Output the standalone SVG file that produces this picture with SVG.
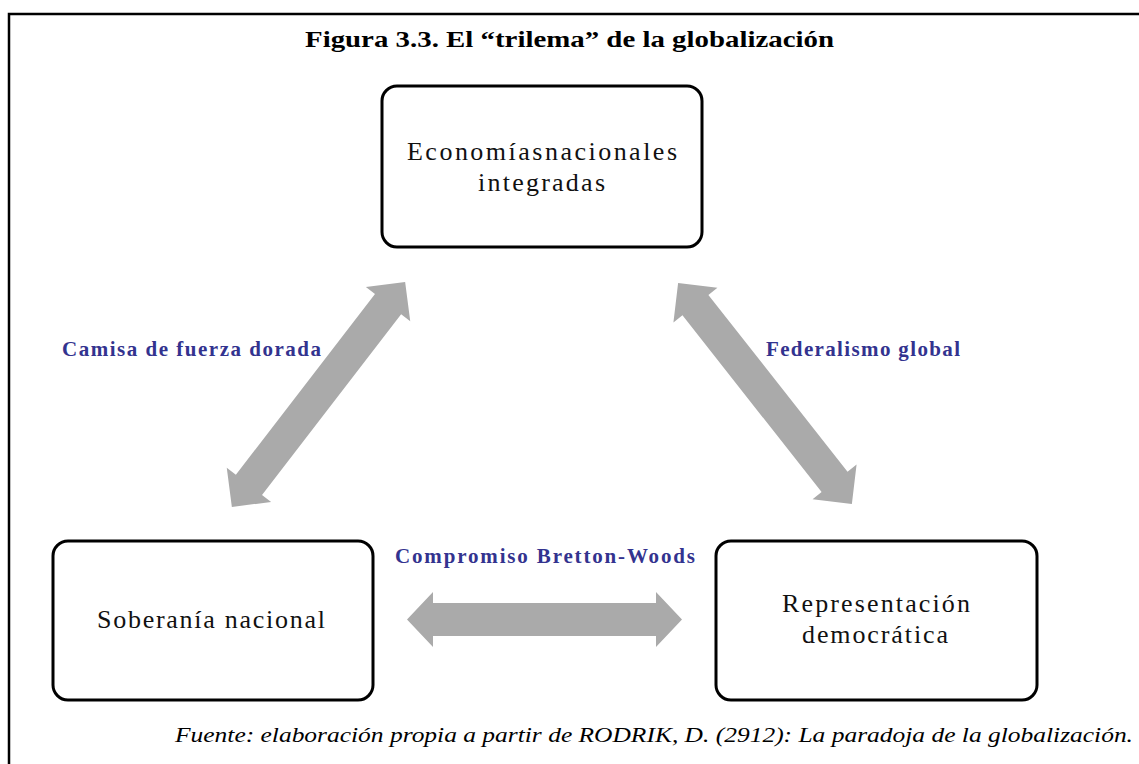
<svg xmlns="http://www.w3.org/2000/svg" width="1139" height="764" viewBox="0 0 1139 764">
<style>
.box{fill:#fff;stroke:#000;stroke-width:3}
.nt{font-family:"Liberation Serif","Times New Roman",serif;font-size:26px;fill:#111;text-anchor:middle}
.lbl{font-family:"Liberation Serif","Times New Roman",serif;font-size:21px;font-weight:bold;fill:#33338f}
.arr{fill:#aaaaaa}
</style>
<rect x="0" y="0" width="1139" height="764" fill="#fff"/>
<path d="M9,764 L9,14 L1139,14" fill="none" stroke="#000" stroke-width="2.5"/>
<text x="569.5" y="47" text-anchor="middle" textLength="529" lengthAdjust="spacingAndGlyphs" style="font-family:'Liberation Serif','Times New Roman',serif;font-size:23px;font-weight:bold">Figura 3.3. El “trilema” de la globalización</text>
<g id="connectors">
<path class="arr" transform="translate(318.5,394.5) rotate(-52.4)" d="M-142,0 L-114,-28 L-114,-16.5 L114,-16.5 L114,-28 L142,0 L114,28 L114,16.5 L-114,16.5 L-114,28 Z"/>
<path class="arr" transform="translate(765,393.5) rotate(51.8)" d="M-140.5,0 L-112.5,-28 L-112.5,-16.5 L112.5,-16.5 L112.5,-28 L140.5,0 L112.5,28 L112.5,16.5 L-112.5,16.5 L-112.5,28 Z"/>
<path class="arr" transform="translate(544.5,619.5)" d="M-137.5,0 L-111.5,-27.5 L-111.5,-16.5 L111.5,-16.5 L111.5,-27.5 L137.5,0 L111.5,27.5 L111.5,16.5 L-111.5,16.5 L-111.5,27.5 Z"/>
<text class="lbl" x="62" y="356" textLength="259" lengthAdjust="spacing">Camisa de fuerza dorada</text>
<text class="lbl" x="766" y="356" textLength="194" lengthAdjust="spacing">Federalismo global</text>
<text class="lbl" x="395" y="563" textLength="300" lengthAdjust="spacing">Compromiso Bretton-Woods</text>
</g>
<g id="node-economias">
<rect class="box" x="382" y="86" width="320" height="161" rx="15"/>
<text class="nt" x="542" y="160" textLength="270" lengthAdjust="spacing">Economíasnacionales</text>
<text class="nt" x="541.5" y="191" textLength="127" lengthAdjust="spacing">integradas</text>
</g>
<g id="node-soberania">
<rect class="box" x="53" y="541" width="320" height="159" rx="15"/>
<text class="nt" x="211" y="628" textLength="228" lengthAdjust="spacing">Soberanía nacional</text>
</g>
<g id="node-representacion">
<rect class="box" x="716" y="541" width="321" height="159" rx="15"/>
<text class="nt" x="876" y="612" textLength="188" lengthAdjust="spacing">Representación</text>
<text class="nt" x="875" y="643" textLength="146" lengthAdjust="spacing">democrática</text>
</g>
<text x="654" y="742" text-anchor="middle" textLength="958" lengthAdjust="spacingAndGlyphs" style="font-family:'Liberation Serif','Times New Roman',serif;font-size:22px;font-style:italic">Fuente: elaboración propia a partir de RODRIK, D. (2912): La paradoja de la globalización.</text>
</svg>
